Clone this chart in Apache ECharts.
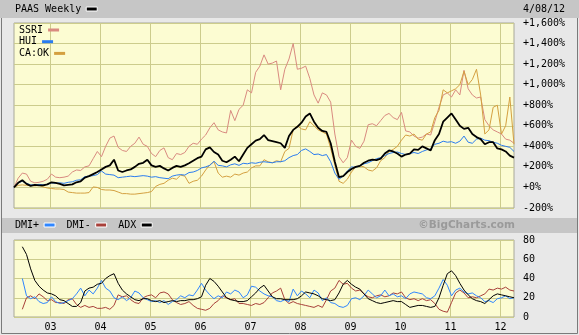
<!DOCTYPE html>
<html>
<head>
<meta charset="utf-8">
<script src="https://cdn.jsdelivr.net/npm/echarts@6/dist/echarts.min.js"></script>
<style>
  html, body { margin: 0; padding: 0; background: #e8e8e8; }
  #chart { width: 579px; height: 335px; }
</style>
</head>
<body>
<div id="chart"></div>
<script>
// Monthly samples, April 2002 through April 2012 (121 points)
const firstYear = 2002, firstMonth = 4, monthCount = 121;
const months = [];
for (let k = 0; k < monthCount; k++) {
  const m = firstMonth - 1 + k;
  months.push(`${firstYear + Math.floor(m / 12)}-${String(m % 12 + 1).padStart(2, '0')}`);
}
const yearTicks = [2003, 2004, 2005, 2006, 2007, 2008, 2009, 2010, 2011, 2012];
const asOf = '4/08/12';

// Percent change since April 2002
const paas = [0, 45, 70, 35, 15, 25, 20, 20, 30, 50, 45, 35, 20, 25, 30, 50, 60, 95, 110, 130,
  150, 175, 200, 215, 270, 165, 150, 165, 175, 200, 230, 240, 270, 215, 200, 210, 185, 165, 190, 210,
  200, 215, 235, 260, 285, 300, 370, 390, 345, 320, 260, 245, 270, 300, 255, 320, 385, 420, 455, 470,
  510, 460, 450, 440, 430, 385, 500, 560, 590, 630, 690, 720, 640, 580, 550, 540, 430, 250, 100, 110,
  150, 180, 200, 210, 240, 260, 270, 265, 280, 330, 360, 350, 330, 300, 320, 330, 370, 365, 400, 380,
  360, 460, 520, 640, 680, 720, 660, 600, 570, 580, 520, 490, 470, 420, 440, 440, 380, 370, 350, 310, 290];

const ssri = [0, 90, 140, 130, 60, 45, 50, 60, 80, 130, 100, 95, 100, 110, 150, 170, 165, 200, 210, 280,
  350, 300, 400, 480, 500, 390, 360, 350, 400, 430, 490, 420, 400, 330, 300, 360, 385, 290, 270, 330,
  320, 340, 400, 430, 420, 470, 510, 580, 630, 560, 540, 530, 750, 650, 760, 800, 950, 920, 1120, 1180,
  1290, 1200, 1210, 1230, 950, 1150, 1250, 1400, 1150, 1160, 1180, 1060, 900, 820, 920, 900, 830, 520, 300, 240,
  290, 460, 400, 380, 450, 610, 620, 600, 650, 700, 720, 680, 660, 730, 550, 540, 500, 480, 490, 520,
  510, 640, 780, 900, 920, 880, 950, 900, 1140, 960, 900, 870, 880, 660, 600, 560, 540, 520, 470, 460, 430];

const hui = [0, 45, 60, 40, 25, 25, 30, 25, 30, 45, 40, 45, 40, 50, 55, 70, 75, 105, 110, 115,
  125, 160, 130, 125, 120, 95, 100, 105, 110, 105, 110, 115, 110, 100, 105, 95, 90, 85, 110, 120,
  125, 120, 145, 150, 165, 190, 200, 215, 255, 215, 210, 200, 220, 230, 215, 235, 230, 240, 235, 245,
  250, 245, 240, 250, 250, 260, 290, 310, 320, 360, 375, 350, 320, 325, 310, 320, 250, 140, 80, 110,
  160, 200, 195, 210, 230, 240, 260, 280, 290, 310, 330, 340, 345, 330, 320, 330, 340, 330, 350, 365,
  375, 420, 430, 450, 440, 445, 430, 450, 500, 440, 430, 470, 480, 460, 455, 440, 430, 410, 400, 390, 350];

const caok = [0, 20, 25, 20, 20, 15, 20, 5, -5, -10, -15, -15, -20, -45, -50, -55, -55, -55, -50, 5,
  0, -20, -25, -25, -30, -45, -60, -60, -65, -65, -60, -55, -50, -40, 10, 30, 40, 70, 90, 80,
  120, 110, 40, 60, 70, 110, 170, 220, 250, 140, 100, 110, 100, 130, 120, 140, 150, 190, 210, 210,
  270, 250, 240, 260, 250, 350, 380, 560, 600, 570, 560, 640, 600, 560, 540, 520, 380, 220, 60, 40,
  80, 150, 200, 210, 200, 170, 160, 190, 260, 290, 350, 370, 400, 460, 510, 500, 520, 470, 460, 520,
  540, 680, 750, 950, 920, 940, 960, 1000, 1130, 1000, 1050, 1150, 900, 520, 560, 780, 800, 520, 600, 880, 420];

// Directional movement (PAAS), first two months have no reading
const dmiPlus = [null, null, 40, 22, 19, 21, 16, 14, 15, 21, 16, 14, 15, 17, 19, 24, 30, 22, 28, 24,
  30, 38, 30, 27, 20, 18, 21, 17, 20, 27, 25, 20, 18, 16, 17, 15, 17, 13, 16, 18,
  22, 20, 23, 22, 28, 35, 28, 23, 19, 22, 20, 26, 24, 28, 26, 20, 23, 32, 31, 27,
  24, 22, 21, 17, 16, 18, 16, 29, 22, 27, 24, 20, 28, 25, 17, 20, 15, 14, 11, 10,
  12, 19, 20, 18, 22, 28, 24, 20, 22, 28, 22, 24, 21, 22, 19, 24, 26, 25, 24, 20,
  19, 22, 30, 39, 33, 22, 28, 30, 26, 24, 25, 22, 20, 16, 17, 15, 19, 20, 22, 19, 20];

const dmiMinus = [null, null, 8, 20, 22, 19, 24, 21, 17, 18, 15, 15, 14, 18, 19, 13, 10, 12, 10, 11,
  9, 9, 10, 8, 12, 23, 21, 22, 18, 15, 14, 20, 22, 23, 20, 25, 26, 24, 18, 15,
  13, 14, 16, 12, 9, 8, 7, 9, 14, 17, 22, 20, 18, 19, 14, 14, 13, 12, 14, 13,
  15, 20, 25, 27, 30, 18, 14, 16, 14, 13, 12, 11, 10, 12, 10, 18, 27, 30, 38, 34,
  35, 30, 27, 28, 24, 21, 20, 22, 23, 21, 22, 25, 24, 26, 20, 18, 19, 17, 19, 17,
  18, 14, 8, 6, 5, 15, 25, 28, 25, 20, 21, 20, 22, 24, 29, 28, 30, 29, 31, 28, 27];

const adx = [null, null, 73, 65, 50, 38, 32, 28, 25, 24, 22, 18, 17, 14, 11, 11, 15, 27, 30, 31,
  34, 35, 40, 43, 45, 35, 28, 24, 21, 18, 17, 19, 19, 17, 16, 17, 15, 16, 17, 16,
  17, 17, 18, 18, 19, 21, 33, 40, 37, 32, 26, 20, 18, 17, 16, 16, 17, 21, 25, 30,
  33, 27, 21, 19, 19, 18, 18, 18, 19, 22, 26, 25, 24, 22, 19, 18, 17, 18, 25, 34,
  38, 34, 31, 29, 24, 19, 17, 15, 14, 15, 16, 17, 16, 16, 13, 10, 11, 12, 12, 11,
  10, 11, 20, 33, 45, 48, 43, 35, 28, 23, 19, 17, 16, 14, 18, 22, 24, 23, 22, 21, 20];

// Month label -> fractional year (data points sit on the 8th of each month)
const toYear = s => {
  const [y, m] = s.split('-').map(Number);
  return y + (m - 1) / 12 + 7 / 365;
};
const monthPos = months.map(toYear);
const pairs = vals => vals.map((v, k) => [monthPos[k], v]).filter(p => p[1] !== null);

const FONT = 'DejaVu Sans Mono';
const GRID_LINE = '#cccc8c';
const PLOT_BG = '#fcfcd2';
const C = {
  paas: '#000000', ssri: '#d98a80', hui: '#2a7cf0', caok: '#d4a040',
  dmiPlus: '#2f86ff', dmiMinus: '#a8403a', adx: '#000000'
};

const pctLabel = v => (v >= 0 ? '+' : '') + v.toLocaleString('en-US') + '%';
const legendText = { fontFamily: FONT, fontSize: 10, color: '#000' };

const chart = echarts.init(document.getElementById('chart'), null, { renderer: 'canvas' });

const xAxisFor = (g, showLabels) => ({
  type: 'value', gridIndex: g,
  min: monthPos[0], max: monthPos[monthPos.length - 1],
  axisLine: { show: false },
  axisTick: { show: false, customValues: yearTicks },
  axisLabel: {
    show: showLabels, customValues: yearTicks, margin: 5,
    formatter: v => String(Math.round(v)).slice(2),
    fontFamily: FONT, fontSize: 10, color: '#000'
  },
  splitLine: { show: true, lineStyle: { color: GRID_LINE, width: 1 } }
});

const lineSeries = (name, data, color, width, xi, yi, z) => ({
  name, type: 'line', data, xAxisIndex: xi, yAxisIndex: yi,
  showSymbol: false, symbol: 'none', smooth: false, z,
  lineStyle: { color, width }, itemStyle: { color },
  emphasis: { disabled: true }
});

// one legend block per comparison symbol, stacked in the plot's top-left corner
const plotKey = (name, top) => ({
  data: [name], left: 19, top, padding: 0, align: 'right', icon: 'rect',
  itemWidth: 11, itemHeight: 3, textStyle: legendText, selectedMode: false
});

chart.setOption({
  animation: false,
  backgroundColor: '#e8e8e8',
  textStyle: { fontFamily: FONT, fontSize: 10, color: '#000' },
  graphic: [
    // header bars and outer frame
    { type: 'rect', shape: { x: 0, y: 0, width: 579, height: 18 }, style: { fill: '#c6c6c6' }, silent: true, z: -10 },
    { type: 'rect', shape: { x: 2, y: 218, width: 575, height: 15 }, style: { fill: '#c6c6c6' }, silent: true, z: -10 },
    { type: 'polyline', shape: { points: [[1.5, 18], [1.5, 333.5], [577.5, 333.5], [577.5, 18]] },
      style: { stroke: '#7a7a7a', lineWidth: 1, fill: null }, silent: true, z: -5 },
    { type: 'text', x: 523, y: 9, style: { text: asOf, font: `10px "${FONT}"`, fill: '#000', verticalAlign: 'middle' }, silent: true },
    { type: 'text', x: 515, y: 225.5, style: { text: '©BigCharts.com', font: 'bold 10.5px "DejaVu Sans"', fill: '#9a9a9a', align: 'right', verticalAlign: 'middle' }, silent: true }
  ],
  legend: [
    {
      data: ['PAAS'], formatter: () => 'PAAS Weekly',
      left: 15, top: 4, padding: 0, align: 'right', icon: 'rect',
      itemWidth: 11, itemHeight: 4, itemStyle: { borderColor: '#ffffff', borderWidth: 1 },
      textStyle: legendText, selectedMode: false
    },
    plotKey('SSRI', 25),
    plotKey('HUI', 36.7),
    plotKey('CA:OK', 48.4),
    {
      data: ['DMI+', 'DMI-', 'ADX'],
      left: 15, top: 220, padding: 0, align: 'right', icon: 'rect', itemGap: 11,
      itemWidth: 11, itemHeight: 4, itemStyle: { borderColor: '#ffffff', borderWidth: 1 },
      textStyle: legendText, selectedMode: false
    }
  ],
  grid: [
    { left: 14, right: 65, top: 23, height: 185, show: true, backgroundColor: PLOT_BG, borderColor: '#a8a898', borderWidth: 1 },
    { left: 14, right: 65, top: 240, height: 77, show: true, backgroundColor: PLOT_BG, borderColor: '#a8a898', borderWidth: 1 }
  ],
  xAxis: [xAxisFor(0, false), xAxisFor(1, true)],
  yAxis: [
    {
      type: 'value', gridIndex: 0, position: 'right', min: -200, max: 1600, interval: 200,
      axisLine: { show: false }, axisTick: { show: false },
      axisLabel: { margin: 9, formatter: pctLabel, fontFamily: FONT, fontSize: 10, color: '#000' },
      splitLine: { show: true, lineStyle: { color: GRID_LINE, width: 1 } }
    },
    {
      type: 'value', gridIndex: 1, position: 'right', min: 0, max: 80, interval: 20,
      axisLine: { show: false }, axisTick: { show: false },
      axisLabel: { margin: 9, fontFamily: FONT, fontSize: 10, color: '#000' },
      splitLine: { show: true, lineStyle: { color: GRID_LINE, width: 1 } }
    }
  ],
  series: [
    lineSeries('SSRI', pairs(ssri), C.ssri, 1, 0, 0, 2),
    lineSeries('CA:OK', pairs(caok), C.caok, 1, 0, 0, 3),
    lineSeries('HUI', pairs(hui), C.hui, 1, 0, 0, 4),
    lineSeries('PAAS', pairs(paas), C.paas, 1.8, 0, 0, 5),
    lineSeries('DMI+', pairs(dmiPlus), C.dmiPlus, 1, 1, 1, 3),
    lineSeries('DMI-', pairs(dmiMinus), C.dmiMinus, 1, 1, 1, 2),
    lineSeries('ADX', pairs(adx), C.adx, 1, 1, 1, 4)
  ]
});
</script>
</body>
</html>
